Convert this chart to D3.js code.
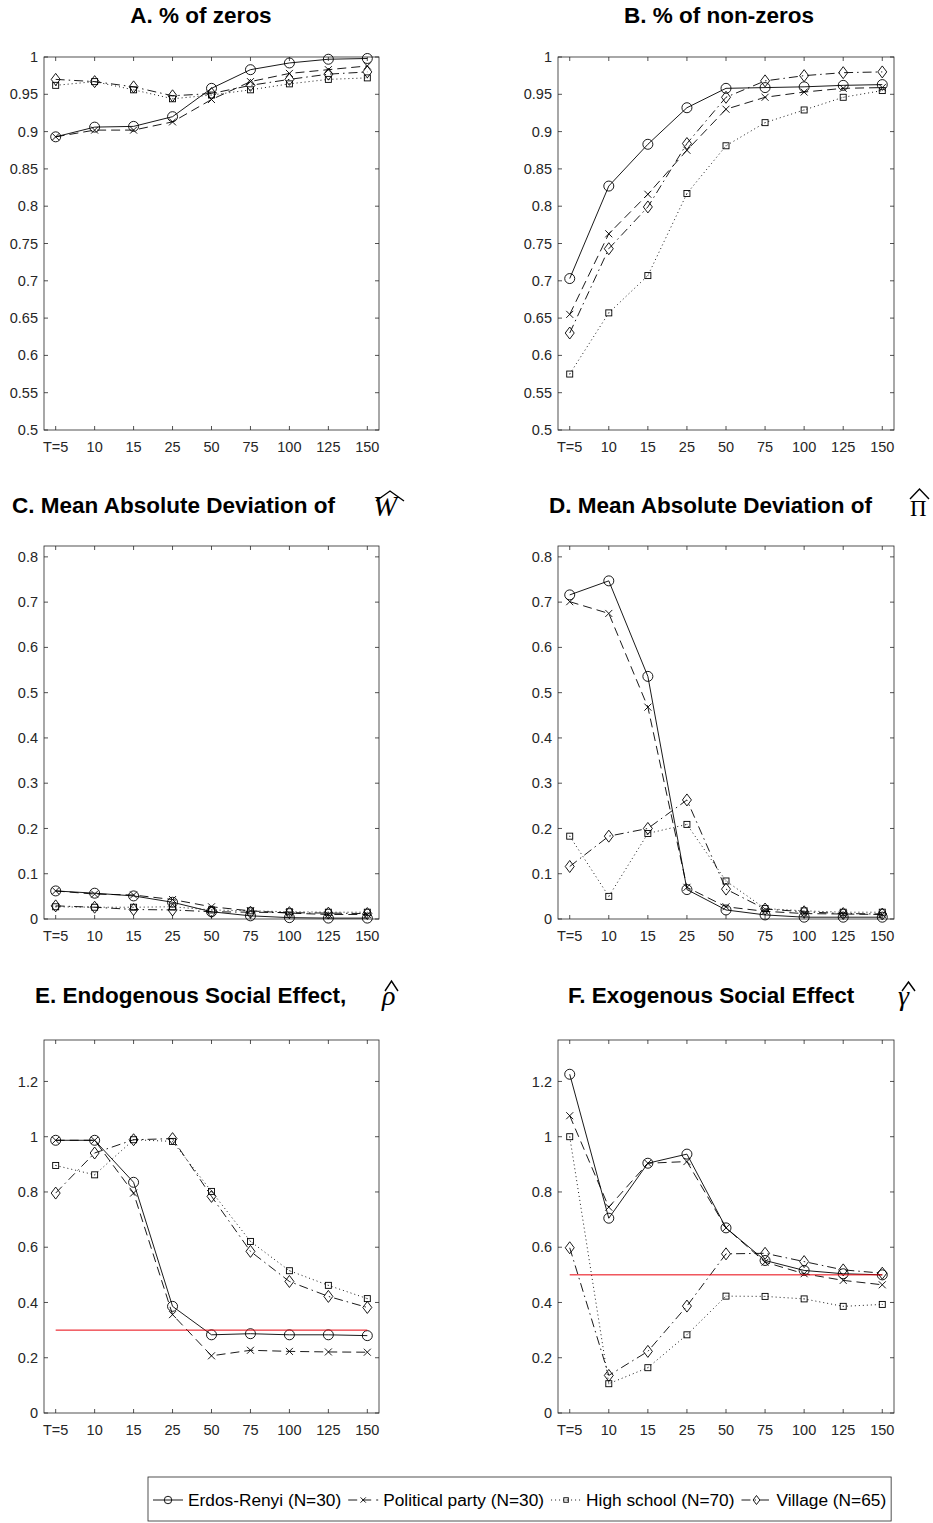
<!DOCTYPE html>
<html>
<head>
<meta charset="utf-8">
<script src="https://cdn.jsdelivr.net/npm/d3@7"></script>
<style>
body { margin: 0; background: #fff; }
text { font-family: "Liberation Sans", Arial, Helvetica, sans-serif; }
</style>
</head>
<body>
<div id="chart"></div>
<script>
// 데이터: x축 범주 (표본 기간 T)
const categories = ["T=5", "10", "15", "25", "50", "75", "100", "125", "150"];
const seriesNames = ["Erdos-Renyi (N=30)", "Political party (N=30)", "High school (N=70)", "Village (N=65)"];

// 각 패널 값: [Erdos-Renyi, Political party, High school, Village]
const pctZeros = [
    [0.893, 0.906, 0.907, 0.920, 0.958, 0.983, 0.992, 0.997, 0.998],
    [0.893, 0.902, 0.902, 0.913, 0.943, 0.967, 0.978, 0.983, 0.988],
    [0.962, 0.967, 0.956, 0.944, 0.949, 0.956, 0.964, 0.970, 0.972],
    [0.970, 0.967, 0.960, 0.948, 0.951, 0.962, 0.970, 0.977, 0.980]
];
const pctNonZeros = [
    [0.703, 0.827, 0.883, 0.932, 0.958, 0.959, 0.960, 0.962, 0.963],
    [0.655, 0.763, 0.816, 0.875, 0.930, 0.946, 0.953, 0.958, 0.959],
    [0.575, 0.657, 0.707, 0.817, 0.881, 0.912, 0.929, 0.946, 0.955],
    [0.630, 0.743, 0.799, 0.884, 0.946, 0.968, 0.975, 0.979, 0.980]
];
const madW = [
    [0.062, 0.057, 0.051, 0.037, 0.016, 0.007, 0.003, 0.002, 0.002],
    [0.062, 0.055, 0.053, 0.043, 0.027, 0.018, 0.013, 0.010, 0.010],
    [0.027, 0.026, 0.026, 0.027, 0.020, 0.018, 0.016, 0.015, 0.015],
    [0.029, 0.026, 0.021, 0.020, 0.016, 0.015, 0.014, 0.013, 0.012]
];
const madPi = [
    [0.716, 0.747, 0.536, 0.065, 0.020, 0.009, 0.004, 0.004, 0.004],
    [0.701, 0.675, 0.468, 0.070, 0.027, 0.017, 0.012, 0.011, 0.010],
    [0.183, 0.050, 0.189, 0.209, 0.084, 0.023, 0.018, 0.015, 0.015],
    [0.116, 0.183, 0.200, 0.263, 0.066, 0.022, 0.016, 0.012, 0.011]
];
const rhoHat = [
    [0.987, 0.987, 0.835, 0.386, 0.283, 0.287, 0.283, 0.283, 0.280],
    [0.987, 0.987, 0.796, 0.356, 0.207, 0.227, 0.223, 0.221, 0.220],
    [0.896, 0.862, 0.989, 0.983, 0.802, 0.621, 0.515, 0.462, 0.414],
    [0.796, 0.941, 0.989, 0.993, 0.784, 0.585, 0.476, 0.422, 0.382]
];
const gammaHat = [
    [1.226, 0.705, 0.904, 0.937, 0.670, 0.552, 0.516, 0.504, 0.500],
    [1.076, 0.745, 0.904, 0.910, 0.670, 0.546, 0.504, 0.480, 0.464],
    [1.000, 0.106, 0.164, 0.283, 0.423, 0.422, 0.413, 0.386, 0.393],
    [0.598, 0.136, 0.223, 0.387, 0.576, 0.578, 0.548, 0.518, 0.506]
];
const trueRho = 0.3;   // 빨간 기준선 (E)
const trueGamma = 0.5; // 빨간 기준선 (F)

const yTicksA = d3.range(0.5, 1.0001, 0.05);
const yTicksC = d3.range(0, 0.8001, 0.1);
const yTicksE = d3.range(0, 1.2001, 0.2);

// 1. SVG
const width = 933, height = 1523;
const svg = d3.select("#chart").append("svg")
    .attr("width", width).attr("height", height)
    .style("display", "block");

const axisColor = "#262626";
const dashes = ["none", "9,5", "1,3", "9,4,1.5,4"];
const markers = ["circle", "x", "square", "diamond"];

// 마커 그리기
function drawMarker(g, type, x, y, s = 1) {
    if (type === "circle") {
        g.append("circle").attr("cx", x).attr("cy", y).attr("r", 5 * s)
            .attr("fill", "none").attr("stroke", "#000").attr("stroke-width", 0.9);
    } else if (type === "x") {
        const d = 3.5 * s;
        g.append("path").attr("d", `M${x - d},${y - d}L${x + d},${y + d}M${x - d},${y + d}L${x + d},${y - d}`)
            .attr("stroke", "#000").attr("stroke-width", 0.9);
    } else if (type === "square") {
        const d = 3 * s;
        g.append("rect").attr("x", x - d).attr("y", y - d).attr("width", 2 * d).attr("height", 2 * d)
            .attr("fill", "none").attr("stroke", "#000").attr("stroke-width", 0.9);
        g.append("rect").attr("x", x - 0.5).attr("y", y - 0.5).attr("width", 1).attr("height", 1).attr("fill", "#555");
    } else {
        const w = 4.5 * s, h = 6 * s;
        g.append("path").attr("d", `M${x},${y - h}L${x + w},${y}L${x},${y + h}L${x - w},${y}Z`)
            .attr("fill", "none").attr("stroke", "#000").attr("stroke-width", 0.9);
    }
}

// 2. 패널 그리기
function drawPanel(p) {
    const x = d3.scalePoint().domain(categories).range([p.x0, p.x1]).padding(0.3);
    const y = d3.scaleLinear().domain(p.domain).range([p.y1, p.y0]);
    const g = svg.append("g");

    // 축 박스
    g.append("rect").attr("x", p.x0).attr("y", p.y0)
        .attr("width", p.x1 - p.x0).attr("height", p.y1 - p.y0)
        .attr("fill", "none").attr("stroke", axisColor).attr("stroke-width", 0.8);

    // x 눈금 (위/아래 안쪽)
    categories.forEach(c => {
        const xx = x(c);
        g.append("line").attr("x1", xx).attr("x2", xx).attr("y1", p.y1).attr("y2", p.y1 - 4)
            .attr("stroke", axisColor).attr("stroke-width", 0.8);
        g.append("line").attr("x1", xx).attr("x2", xx).attr("y1", p.y0).attr("y2", p.y0 + 4)
            .attr("stroke", axisColor).attr("stroke-width", 0.8);
        g.append("text").attr("x", xx).attr("y", p.y1 + 22)
            .attr("text-anchor", "middle").attr("font-size", 14.5).attr("fill", axisColor)
            .text(c);
    });

    // y 눈금 (좌/우 안쪽)
    p.ticks.forEach(t => {
        const yy = y(t);
        g.append("line").attr("x1", p.x0).attr("x2", p.x0 + 4).attr("y1", yy).attr("y2", yy)
            .attr("stroke", axisColor).attr("stroke-width", 0.8);
        g.append("line").attr("x1", p.x1).attr("x2", p.x1 - 4).attr("y1", yy).attr("y2", yy)
            .attr("stroke", axisColor).attr("stroke-width", 0.8);
        g.append("text").attr("x", p.x0 - 6).attr("y", yy).attr("dy", "0.35em")
            .attr("text-anchor", "end").attr("font-size", 14.5).attr("fill", axisColor)
            .text(String(+t.toFixed(2)));
    });

    const line = d3.line().x((d, i) => x(categories[i])).y(d => y(d));

    p.data.forEach((vals, si) => {
        g.append("path").datum(vals).attr("d", line)
            .attr("fill", "none").attr("stroke", "#000").attr("stroke-width", 0.9)
            .attr("stroke-dasharray", dashes[si]);
        vals.forEach((v, i) => drawMarker(g, markers[si], x(categories[i]), y(v)));
    });

    // 참값 기준선
    if (p.ref !== undefined) {
        g.append("line").attr("x1", x(categories[0])).attr("x2", x(categories[categories.length - 1]))
            .attr("y1", y(p.ref)).attr("y2", y(p.ref))
            .attr("stroke", "#e8000b").attr("stroke-width", 1);
    }
}

const panels = [
    { x0: 44, x1: 379, y0: 57, y1: 430, domain: [0.5, 1], ticks: yTicksA, data: pctZeros },
    { x0: 558, x1: 894, y0: 57, y1: 430, domain: [0.5, 1], ticks: yTicksA, data: pctNonZeros },
    { x0: 44, x1: 379, y0: 546, y1: 919, domain: [0, 0.824], ticks: yTicksC, data: madW },
    { x0: 558, x1: 894, y0: 546, y1: 919, domain: [0, 0.824], ticks: yTicksC, data: madPi },
    { x0: 44, x1: 379, y0: 1040, y1: 1413, domain: [0, 1.35], ticks: yTicksE, data: rhoHat, ref: trueRho },
    { x0: 558, x1: 894, y0: 1040, y1: 1413, domain: [0, 1.35], ticks: yTicksE, data: gammaHat, ref: trueGamma }
];
panels.forEach(drawPanel);

// 3. 제목
function title(x, y, txt, anchor) {
    svg.append("text").attr("x", x).attr("y", y).attr("text-anchor", anchor)
        .attr("font-size", 22.5).attr("font-weight", "bold").attr("fill", "#000").text(txt);
}
function hat(x0, x1, yb, yt) {
    svg.append("path").attr("d", `M${x0},${yb}L${(x0 + x1) / 2},${yt}L${x1},${yb}`)
        .attr("fill", "none").attr("stroke", "#000").attr("stroke-width", 1.4);
}
function sym(x, y, txt, size, italic) {
    svg.append("text").attr("x", x).attr("y", y)
        .attr("font-size", size).attr("font-style", italic ? "italic" : "normal")
        .style("font-family", "'Liberation Serif','DejaVu Serif',serif")
        .attr("fill", "#000").text(txt);
}

title(201, 23, "A. % of zeros", "middle");
title(719, 23, "B. % of non-zeros", "middle");

title(12, 513, "C. Mean Absolute Deviation of", "start");
sym(373, 516, "W", 29, true);
hat(376, 404, 501, 491);

title(549, 513, "D. Mean Absolute Deviation of", "start");
sym(910, 516, "\u03A0", 23, false);
hat(910, 929, 499, 489);

title(35, 1003, "E. Endogenous Social Effect,", "start");
sym(382, 1005, "\u03C1", 28, true);
hat(385, 398, 991, 981);

title(568, 1003, "F. Exogenous Social Effect", "start");
sym(898, 1005, "\u03B3", 28, true);
hat(902, 915, 991, 982);

// 4. 범례
const leg = svg.append("g");
const legY = 1500;
const legLeft = 148;
let lx = legLeft + 5;
seriesNames.forEach((name, si) => {
    leg.append("line").attr("x1", lx).attr("x2", lx + 30).attr("y1", legY).attr("y2", legY)
        .attr("stroke", "#000").attr("stroke-width", 0.9).attr("stroke-dasharray", dashes[si]);
    drawMarker(leg, markers[si], lx + 15, legY, 0.75);
    const t = leg.append("text").attr("x", lx + 35).attr("y", legY).attr("dy", "0.35em")
        .attr("font-size", 17.3).attr("fill", "#000").text(name);
    lx += 35 + t.node().getComputedTextLength() + 7;
});
leg.insert("rect", ":first-child").attr("x", legLeft).attr("y", 1477).attr("width", lx - legLeft - 2).attr("height", 44)
    .attr("fill", "#fff").attr("stroke", axisColor).attr("stroke-width", 0.8);
</script>
</body>
</html>
